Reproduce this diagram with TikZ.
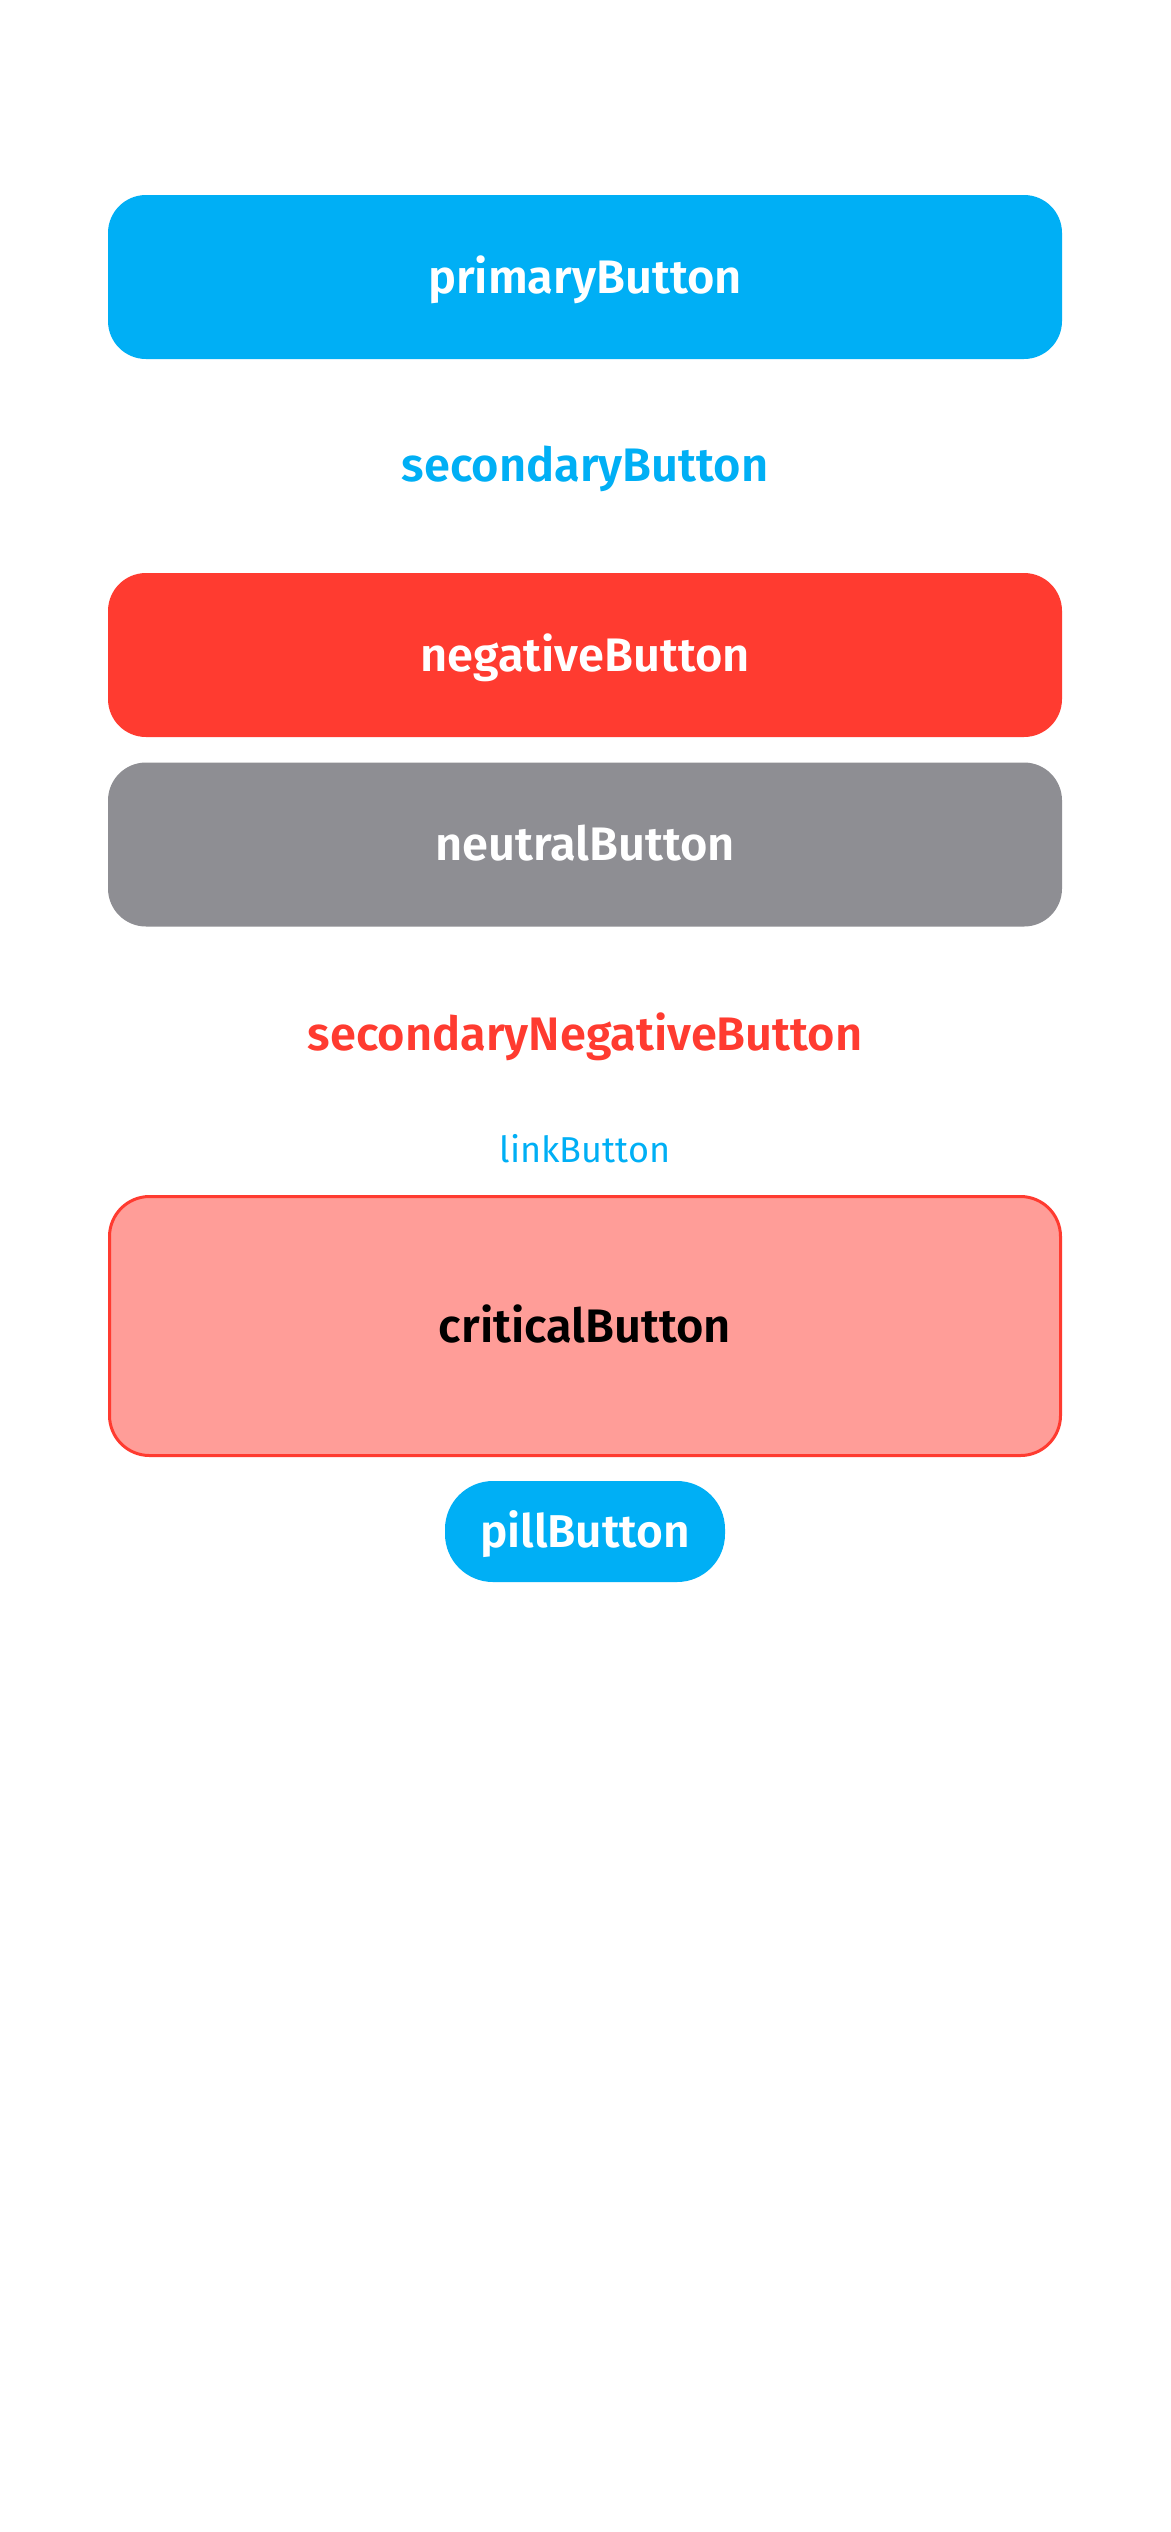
\documentclass[tikz,border=0pt]{standalone}
\usepackage{fontspec}
\setmainfont{Fira Sans}
\newfontfamily\semib{Fira Sans SemiBold}
\definecolor{iosblue}{RGB}{0,175,245}
\definecolor{iosred}{RGB}{255,59,48}
\definecolor{iosgray}{RGB}{142,142,147}
\definecolor{critfill}{RGB}{255,157,152}
\tikzset{
  btntext/.style={inner sep=0pt, outer sep=0pt, text depth=0pt, align=center},
  btnbox/.style={btntext, rectangle, rounded corners=38pt, minimum width=954pt, minimum height=164pt},
  semitext/.style={font=\semib\fontsize{47}{56}\selectfont, text height=32.4pt},
}
\begin{document}
\begin{tikzpicture}[x=1pt,y=-1pt]
\useasboundingbox[fill=white] (0,0) rectangle (1170,2532);
\node[btnbox, semitext, fill=iosblue, text=white] (primary) at (585,277) {primaryButton};
\node[btntext, semitext, text=iosblue] (secondary) at (585,465) {secondaryButton};
\node[btnbox, semitext, fill=iosred, text=white] (negative) at (585,655) {negativeButton};
\node[btnbox, semitext, fill=iosgray, text=white] (neutral) at (585,844.5) {neutralButton};
\node[btntext, semitext, text=iosred] (secneg) at (585,1034.5) {secondaryNegativeButton};
\node[btntext, font=\fontsize{36}{43}\selectfont, text height=24.8pt, text=iosblue] (link) at (585,1150.5) {linkButton};
\node[btnbox, semitext, fill=critfill, draw=iosred, line width=3pt, minimum width=951pt, minimum height=259pt, rounded corners=40pt, text=black] (critical) at (585,1326) {criticalButton};
\node[btntext, rectangle, rounded corners=48pt, minimum width=280pt, minimum height=101pt, fill=iosblue, text=white, font=\semib\fontsize{46}{55}\selectfont, text height=31.7pt] (pill) at (585,1531.5) {pillButton};
\end{tikzpicture}
\end{document}
